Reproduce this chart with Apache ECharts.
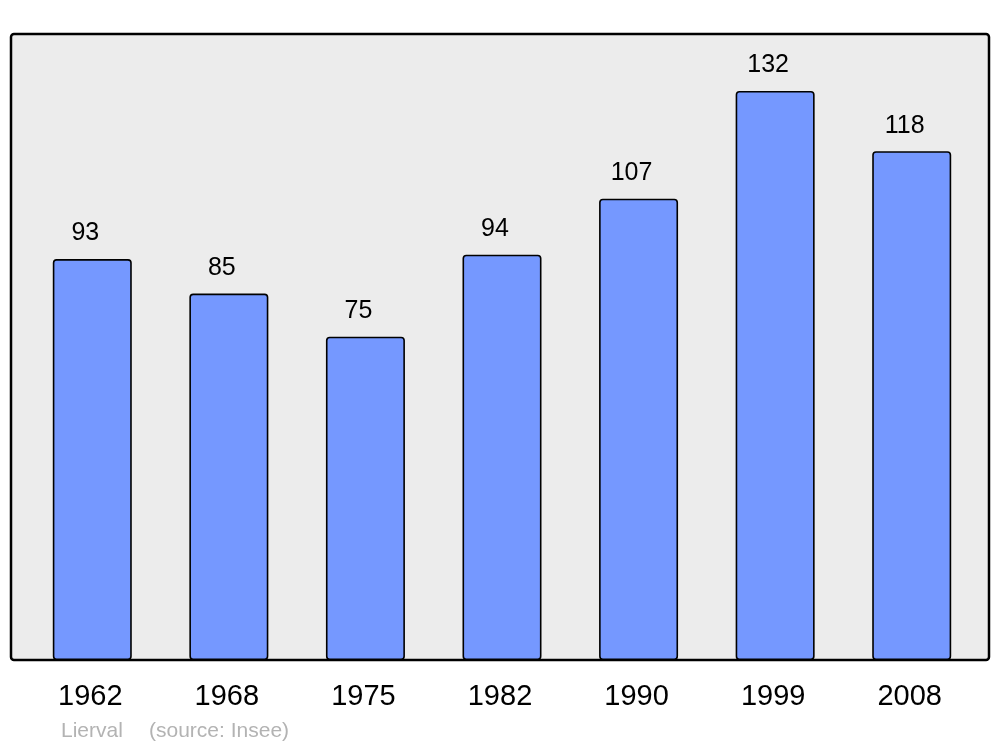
<!DOCTYPE html>
<html>
<head>
<meta charset="utf-8">
<script src="https://cdn.jsdelivr.net/npm/echarts@6/dist/echarts.min.js"></script>
<style>html,body{margin:0;padding:0;background:#fff}#c{width:1000px;height:747px}</style>
</head>
<body>
<div id="c"></div>
<script>
const years = ['1962','1968','1975','1982','1990','1999','2008'];
const population = [93, 85, 75, 94, 107, 132, 118];
const footerName = 'Lierval';
const footerSource = '(source: Insee)';

const chart = echarts.init(document.getElementById('c'), null, {renderer: 'canvas'});
chart.setOption({
  animation: false,
  backgroundColor: '#ffffff',
  graphic: [
    {type: 'rect', z: -10, shape: {x: 11, y: 34, width: 978, height: 626, r: 3},
     style: {fill: '#ececec', stroke: '#000', lineWidth: 2.5}},
    {type: 'text', left: 61, top: 721, style: {text: footerName, fill: '#b3b3b3', font: '21px "Liberation Sans", Arial, sans-serif'}},
    {type: 'text', left: 149, top: 721, style: {text: footerSource, fill: '#b3b3b3', font: '21px "Liberation Sans", Arial, sans-serif'}}
  ],
  grid: {left: 24, right: 20, top: 34, bottom: 87},
  xAxis: {
    type: 'category', data: years,
    axisLine: {show: false}, axisTick: {show: false},
    axisLabel: {color: '#000', fontSize: 29, fontFamily: 'Liberation Sans', margin: 22, padding: [0, 4, 0, 0]}
  },
  yAxis: {type: 'value', min: 0, max: 145.2, show: false, splitLine: {show: false}},
  series: [{
    type: 'bar', data: population, barWidth: 79,
    itemStyle: {color: '#7598ff', borderColor: '#000', borderWidth: 1.6, borderRadius: 3},
    label: {show: true, position: 'top', distance: 13, offset: [-7, 0], color: '#000', fontSize: 25, fontFamily: 'Liberation Sans'}
  }]
});
</script>
</body>
</html>
